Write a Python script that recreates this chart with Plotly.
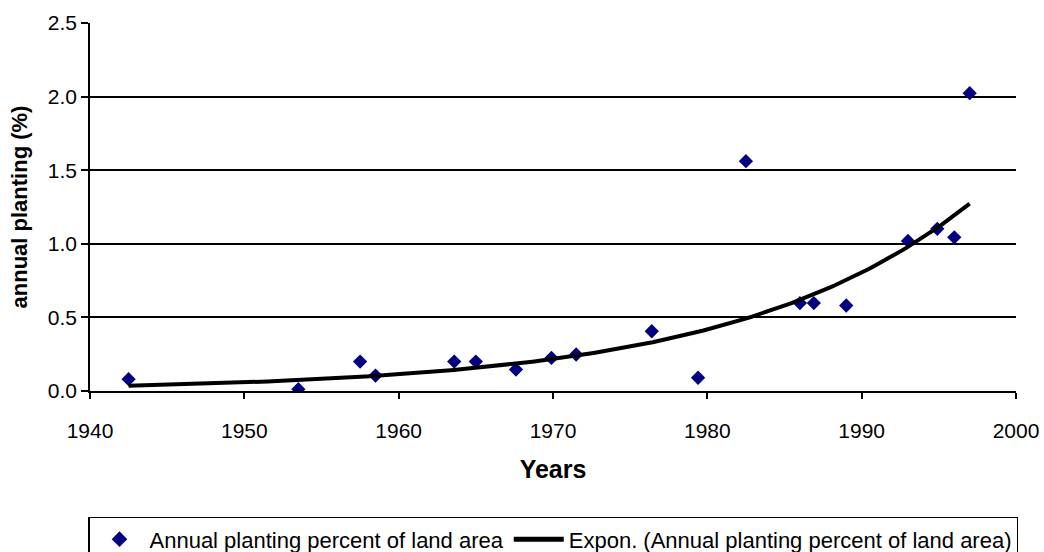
import numpy as np
import plotly.graph_objects as go

# Annual planting as percent of land area, by year
years = [1942.5, 1953.5, 1957.5, 1958.5, 1963.6, 1965.0, 1967.6, 1969.9, 1971.5,
         1976.4, 1979.4, 1982.5, 1986.0, 1986.9, 1989.0, 1993.0, 1994.9, 1996.0, 1997.0]
planting = [0.080, 0.012, 0.200, 0.105, 0.200, 0.200, 0.146, 0.225, 0.248,
            0.406, 0.090, 1.561, 0.597, 0.597, 0.581, 1.019, 1.102, 1.044, 2.023]

x_ticks = [1940, 1950, 1960, 1970, 1980, 1990, 2000]
y_ticks = [0.0, 0.5, 1.0, 1.5, 2.0, 2.5]

series_name = "Annual planting percent of land area"
trend_name = "Expon. (Annual planting percent of land area)"

# Exponential trend line: least squares on ln(y)
xa = np.array(years)
ya = np.array(planting)
b, ln_a = np.polyfit(xa, np.log(ya), 1)
xt = np.linspace(xa.min(), xa.max(), 200)
yt = np.exp(ln_a + b * xt)

FONT = "Liberation Sans, Arial, sans-serif"

fig = go.Figure()
fig.add_trace(go.Scatter(
    x=years, y=planting, mode="markers", name=series_name,
    marker=dict(symbol="diamond", size=11, color="#000080", line=dict(width=0)),
))
fig.add_trace(go.Scatter(
    x=xt, y=yt, mode="lines", name=trend_name,
    line=dict(color="black", width=4),
))

fig.update_layout(
    width=1044, height=552,
    margin=dict(l=90, r=28, t=23, b=161, autoexpand=False),
    paper_bgcolor="white", plot_bgcolor="white",
    font=dict(family=FONT, size=21, color="black"),
    showlegend=True,
    legend=dict(
        orientation="h", x=0.5, xanchor="center", y=-0.342, yanchor="top",
        bordercolor="black", borderwidth=1.5, bgcolor="white",
        font=dict(family=FONT, size=22, color="black"),
        itemsizing="constant", itemwidth=50, tracegroupgap=0,
    ),
    xaxis=dict(
        range=[1940, 2000], tickmode="array", tickvals=x_ticks,
        ticktext=[str(v) for v in x_ticks],
        showgrid=False, zeroline=False,
        showline=True, linecolor="black", linewidth=1.5,
        ticks="outside", ticklen=6, tickcolor="black", tickwidth=1.5,
        ticklabelstandoff=14,
        tickfont=dict(family=FONT, size=21),
        title=dict(text="<b>Years</b>", font=dict(family=FONT, size=25), standoff=20),
    ),
    yaxis=dict(
        range=[0, 2.5], tickmode="array", tickvals=y_ticks,
        ticktext=[f"{v:.1f}" for v in y_ticks],
        showgrid=True, gridcolor="black", gridwidth=1.5,
        zeroline=False,
        showline=True, linecolor="black", linewidth=1.5,
        ticks="outside", ticklen=7, tickcolor="black", tickwidth=1.5,
        tickfont=dict(family=FONT, size=21),
        title=dict(text="<b>annual planting (%)</b>", font=dict(family=FONT, size=22), standoff=14),
    ),
)

fig.write_html("out.html")
